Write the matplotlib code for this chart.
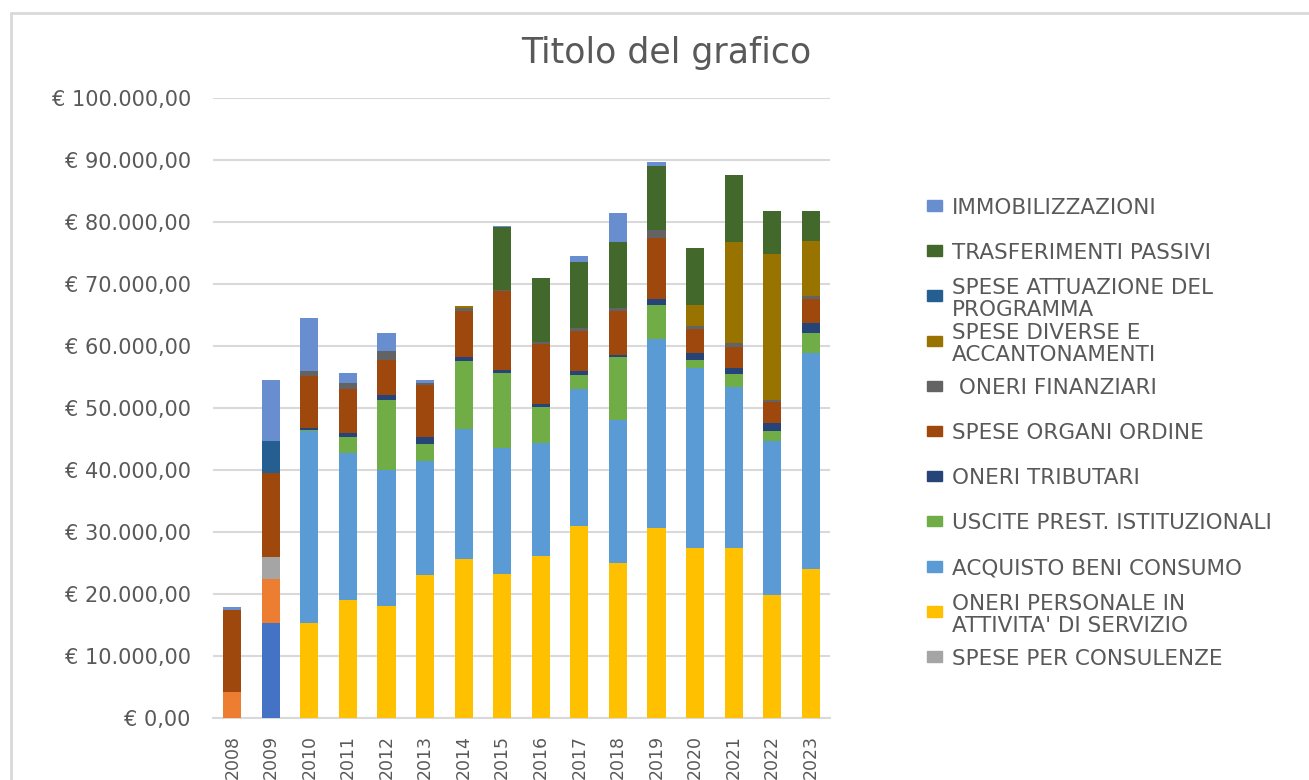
import matplotlib
matplotlib.use("Agg")
import matplotlib.pyplot as plt
from matplotlib.patches import Rectangle
from matplotlib.ticker import FuncFormatter
import numpy as np

# Anni (categorie asse X)
anni = ['2008', '2009', '2010', '2011', '2012', '2013', '2014', '2015',
        '2016', '2017', '2018', '2019', '2020', '2021', '2022', '2023']

# Serie in ordine di impilamento (dal basso verso l'alto), valori in euro
serie_1 = [0, 15300, 0, 0, 0, 0, 0, 0, 0, 0, 0, 0, 0, 0, 0, 0]
serie_2 = [4200, 7100, 0, 0, 0, 0, 0, 0, 0, 0, 0, 0, 0, 0, 0, 0]
consulenze = [0, 3500, 0, 0, 0, 0, 0, 0, 0, 0, 0, 0, 0, 0, 0, 0]
personale = [0, 0, 15300, 19000, 18100, 23100, 25600, 23300,
             26100, 31000, 25000, 30700, 27500, 27500, 19800, 24100]
acquisto = [0, 0, 31000, 23800, 21900, 18300, 21000, 20200,
            18300, 22100, 23000, 30500, 29000, 25900, 24900, 34700]
uscite = [0, 0, 200, 2500, 11300, 2800, 10900, 12100,
          5800, 2300, 10300, 5400, 1200, 2100, 1600, 3300]
tributari = [0, 0, 300, 700, 800, 1100, 800, 500,
             400, 600, 300, 900, 1100, 900, 1300, 1600]
organi = [13300, 13600, 8400, 7000, 5600, 8400, 7400, 12700,
          9800, 6400, 7100, 9900, 3900, 3400, 3300, 3800]
finanziari = [0, 0, 800, 1100, 1500, 400, 500, 300,
              300, 500, 500, 1300, 500, 700, 400, 600]
diverse = [0, 0, 0, 0, 0, 0, 300, 0, 0, 0, 0, 0, 3400, 16200, 23600, 8800]
attuazione = [0, 5100, 0, 0, 0, 0, 0, 0, 0, 0, 0, 0, 0, 0, 0, 0]
trasferimenti = [0, 0, 0, 0, 0, 0, 0, 10100,
                 10200, 10600, 10500, 10400, 9200, 10900, 6900, 4800]
immobilizzazioni = [400, 9900, 8500, 1500, 2900, 400, 0, 200,
                    0, 1000, 4700, 500, 0, 0, 0, 0]

# (valori, etichetta legenda, colore) - None = non in legenda
serie = [
    (serie_1, None, '#4472C4'),
    (serie_2, None, '#ED7D31'),
    (consulenze, 'SPESE PER CONSULENZE', '#A5A5A5'),
    (personale, "ONERI PERSONALE IN\nATTIVITA' DI SERVIZIO", '#FFC000'),
    (acquisto, 'ACQUISTO BENI CONSUMO', '#5B9BD5'),
    (uscite, 'USCITE PREST. ISTITUZIONALI', '#70AD47'),
    (tributari, 'ONERI TRIBUTARI', '#264478'),
    (organi, 'SPESE ORGANI ORDINE', '#9E480E'),
    (finanziari, ' ONERI FINANZIARI', '#636363'),
    (diverse, 'SPESE DIVERSE E\nACCANTONAMENTI', '#997300'),
    (attuazione, 'SPESE ATTUAZIONE DEL\nPROGRAMMA', '#255E91'),
    (trasferimenti, 'TRASFERIMENTI PASSIVI', '#43682B'),
    (immobilizzazioni, 'IMMOBILIZZAZIONI', '#698ED0'),
]

W, H = 1309, 780
testo = '#595959'
griglia = '#D9D9D9'

fig = plt.figure(figsize=(W / 100, H / 100), dpi=100)
ax = fig.add_axes([213 / W, 1 - 718 / H, (830 - 213) / W, (718 - 98) / H])

x = np.arange(len(anni))
base = np.zeros(len(anni))
for valori, nome, colore in serie:
    v = np.array(valori, dtype=float)
    ax.bar(x, v, width=0.47, bottom=base, color=colore, zorder=3)
    base += v

# Assi e griglia
ax.set_xlim(-0.5, len(anni) - 0.5)
ax.set_ylim(0, 100000)
ax.set_yticks(np.arange(0, 100001, 10000))
ax.yaxis.set_major_formatter(FuncFormatter(
    lambda v, p: '€ ' + f'{v:,.2f}'.replace(',', 'X').replace('.', ',').replace('X', '.')))
ax.set_xticks(x)
ax.set_xticklabels(anni, rotation=90)
ax.grid(axis='y', color=griglia, linewidth=1.5, zorder=0)
for s in ['top', 'right', 'left']:
    ax.spines[s].set_visible(False)
ax.spines['bottom'].set_color(griglia)
ax.spines['bottom'].set_linewidth(1.5)
ax.tick_params(axis='y', length=0, pad=16, labelsize=15, labelcolor=testo)
ax.tick_params(axis='x', length=0, pad=12, labelsize=12.5, labelcolor=testo)

fig.text(666 / W, 1 - 53 / H, 'Titolo del grafico', ha='center', va='center',
         fontsize=25, color=testo)

# Legenda disegnata a mano (come in Excel)
voci = [(nome, colore) for _, nome, colore in serie if nome][::-1]
for i, (nome, colore) in enumerate(voci):
    yc = 205.7 + i * 45.1
    fig.add_artist(Rectangle((927 / W, 1 - (yc + 5) / H), 15 / W, 10.5 / H,
                             transform=fig.transFigure, color=colore))
    fig.text(952 / W, 1 - yc / H, nome, ha='left', va='center_baseline',
             fontsize=15.5, color=testo, linespacing=1.15)

# Bordo dell'area del grafico
fig.add_artist(Rectangle((10.5 / W, -0.1), 2, 1.1 - 13 / H, transform=fig.transFigure,
                         fill=False, edgecolor=griglia, linewidth=2))

fig.savefig('out.png', dpi=100)
